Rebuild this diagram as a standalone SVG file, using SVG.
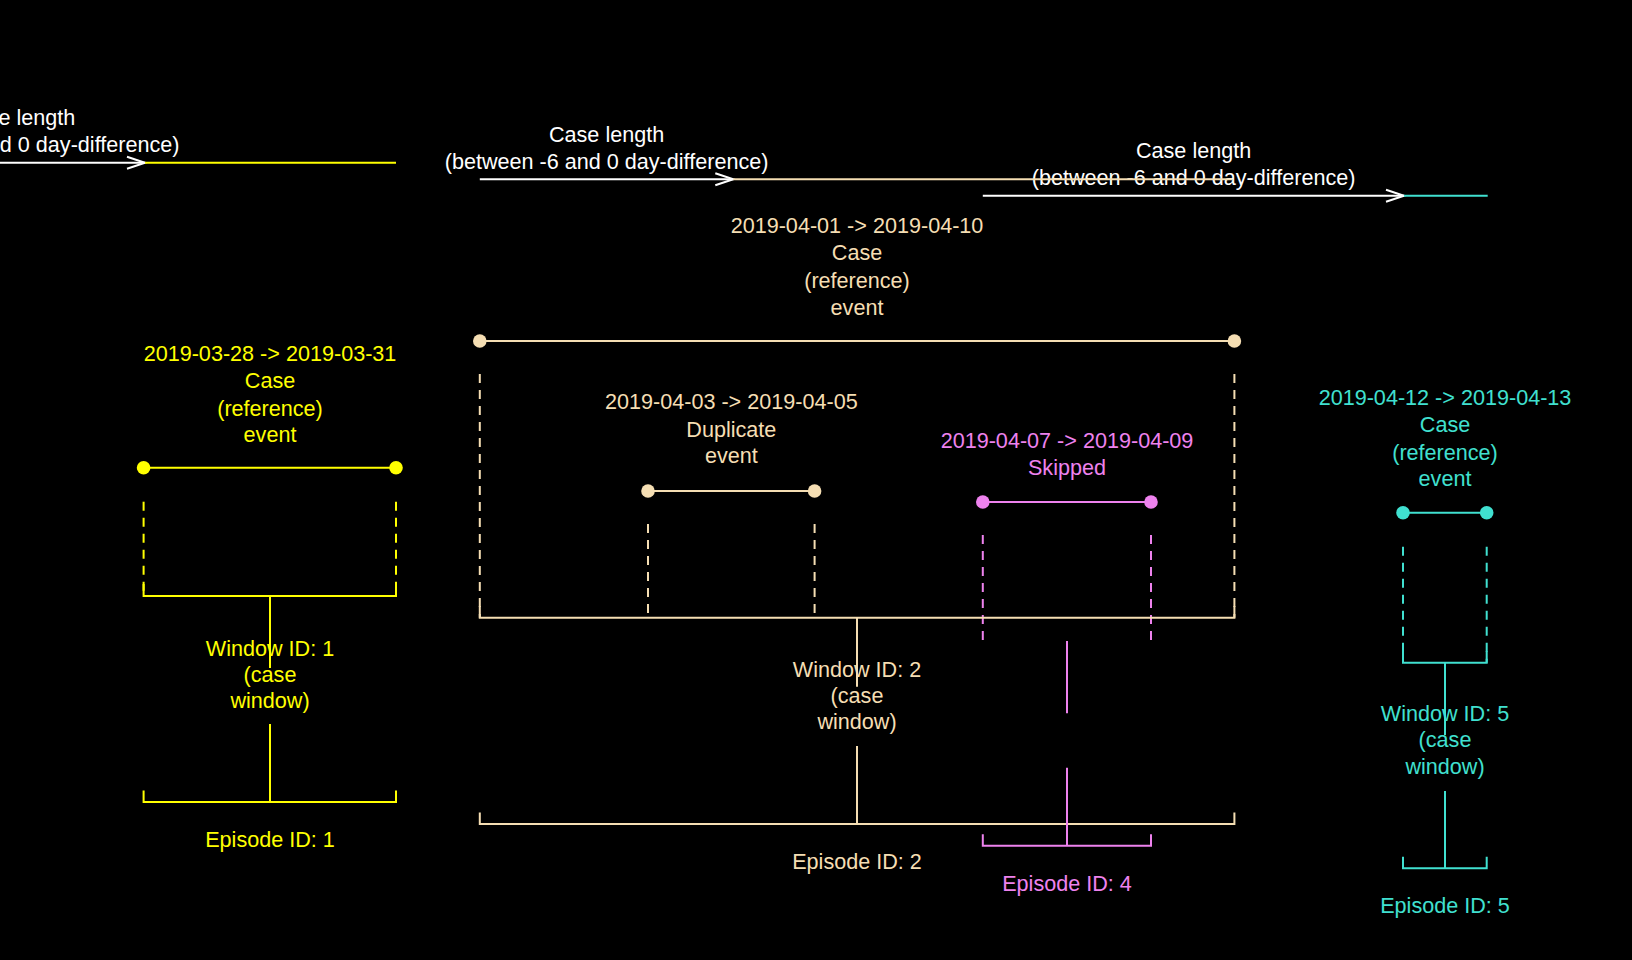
<svg xmlns="http://www.w3.org/2000/svg" width="1632" height="960" viewBox="0 0 1632 960">
<style>
  text { font-family: "Liberation Sans", Arial, sans-serif; font-size: 21.6px; text-anchor: middle; }
  .ln { fill: none; stroke-width: 2; }
  .dash { fill: none; stroke-width: 2; stroke-dasharray: 9 7; }
  .y { stroke: #FFFF00; } .yt { fill: #FFFF00; }
  .w { stroke: #F5DEB3; } .wt { fill: #F5DEB3; }
  .v { stroke: #EE82EE; } .vt { fill: #EE82EE; }
  .c { stroke: #40E0D0; } .ct { fill: #40E0D0; }
  .wh { stroke: #FFFFFF; } .wht { fill: #FFFFFF; }
</style>
<defs>
  <marker id="chev" viewBox="-22 -9 26 18" markerWidth="26" markerHeight="18" refX="0" refY="0" orient="auto" markerUnits="userSpaceOnUse">
    <path d="M-18,-6 L0,0 L-18,6" fill="none" stroke="#FFFFFF" stroke-width="2"/>
  </marker>
</defs>
<rect x="0" y="0" width="1632" height="960" fill="#000000"/>

<!-- arrow labels -->
<g id="case-length-1">
  <text class="wht" x="17.6" y="125">Case length</text>
  <text class="wht" x="17.6" y="152.2">(between -6 and 0 day-difference)</text>
</g>
<g id="case-length-2">
  <text class="wht" x="606.6" y="141.5">Case length</text>
  <text class="wht" x="606.6" y="168.5">(between -6 and 0 day-difference)</text>
</g>
<g id="case-length-3">
  <text class="wht" x="1193.6" y="158">Case length</text>
  <text class="wht" x="1193.6" y="185.2">(between -6 and 0 day-difference)</text>
</g>

<!-- events -->
<g id="event-1">
  <text class="yt" x="270" y="361">2019-03-28 -&gt; 2019-03-31</text>
  <text class="yt" x="270" y="388.3">Case</text>
  <text class="yt" x="270" y="415.6">(reference)</text>
  <text class="yt" x="270" y="442">event</text>
  <line class="ln y" x1="143.6" y1="467.7" x2="396" y2="467.7"/>
  <circle cx="143.6" cy="467.7" r="6.8" class="yt"/>
  <circle cx="396" cy="467.7" r="6.8" class="yt"/>
  <line class="dash y" x1="143.6" y1="501.7" x2="143.6" y2="596"/>
  <line class="dash y" x1="396" y1="501.7" x2="396" y2="596"/>
</g>
<g id="event-2">
  <text class="wt" x="857" y="233">2019-04-01 -&gt; 2019-04-10</text>
  <text class="wt" x="857" y="260.3">Case</text>
  <text class="wt" x="857" y="287.6">(reference)</text>
  <text class="wt" x="857" y="314.5">event</text>
  <line class="ln w" x1="479.8" y1="341" x2="1234.4" y2="341"/>
  <circle cx="479.8" cy="341" r="6.8" class="wt"/>
  <circle cx="1234.4" cy="341" r="6.8" class="wt"/>
  <line class="dash w" x1="479.8" y1="374" x2="479.8" y2="617.7"/>
  <line class="dash w" x1="1234.4" y1="374" x2="1234.4" y2="617.7"/>
</g>
<g id="event-3">
  <text class="wt" x="731.3" y="409.3">2019-04-03 -&gt; 2019-04-05</text>
  <text class="wt" x="731.3" y="436.6">Duplicate</text>
  <text class="wt" x="731.3" y="463.2">event</text>
  <line class="ln w" x1="648" y1="491" x2="814.6" y2="491"/>
  <circle cx="648" cy="491" r="6.8" class="wt"/>
  <circle cx="814.6" cy="491" r="6.8" class="wt"/>
  <line class="dash w" x1="648" y1="524" x2="648" y2="613"/>
  <line class="dash w" x1="814.6" y1="524" x2="814.6" y2="613"/>
</g>
<g id="event-4">
  <text class="vt" x="1067" y="447.6">2019-04-07 -&gt; 2019-04-09</text>
  <text class="vt" x="1067" y="474.9">Skipped</text>
  <line class="ln v" x1="982.8" y1="502" x2="1151" y2="502"/>
  <circle cx="982.8" cy="502" r="6.8" class="vt"/>
  <circle cx="1151" cy="502" r="6.8" class="vt"/>
  <line class="dash v" x1="982.8" y1="535" x2="982.8" y2="641"/>
  <line class="dash v" x1="1151" y1="535" x2="1151" y2="641"/>
</g>
<g id="event-5">
  <text class="ct" x="1445" y="405">2019-04-12 -&gt; 2019-04-13</text>
  <text class="ct" x="1445" y="432.3">Case</text>
  <text class="ct" x="1445" y="459.6">(reference)</text>
  <text class="ct" x="1445" y="485.5">event</text>
  <line class="ln c" x1="1403" y1="512.7" x2="1486.7" y2="512.7"/>
  <circle cx="1403" cy="512.7" r="6.8" class="ct"/>
  <circle cx="1486.7" cy="512.7" r="6.8" class="ct"/>
  <line class="dash c" x1="1403" y1="546.7" x2="1403" y2="662.7"/>
  <line class="dash c" x1="1486.7" y1="546.7" x2="1486.7" y2="662.7"/>
</g>

<!-- windows -->
<g id="window-1">
  <path class="ln y" d="M143.6,584 V596 H396 V584"/>
  <text class="yt" x="270" y="655.6">Window ID: 1</text>
  <text class="yt" x="270" y="681.6">(case</text>
  <text class="yt" x="270" y="708">window)</text>
</g>
<g id="window-2">
  <path class="ln w" d="M479.8,606 V617.7 H1234.4 V606"/>
  <text class="wt" x="857" y="677">Window ID: 2</text>
  <text class="wt" x="857" y="703">(case</text>
  <text class="wt" x="857" y="729">window)</text>
</g>
<g id="window-5">
  <path class="ln c" d="M1403,651 V662.7 H1486.7 V651"/>
  <text class="ct" x="1445" y="721">Window ID: 5</text>
  <text class="ct" x="1445" y="747">(case</text>
  <text class="ct" x="1445" y="773.5">window)</text>
</g>

<!-- episodes -->
<g id="episode-1">
  <path class="ln y" d="M143.6,790.5 V802 H396 V790.5"/>
  <text class="yt" x="270" y="846.6">Episode ID: 1</text>
</g>
<g id="episode-2">
  <path class="ln w" d="M479.8,812.5 V824 H1234.4 V812.5"/>
  <text class="wt" x="857" y="869.3">Episode ID: 2</text>
</g>
<g id="episode-4">
  <path class="ln v" d="M982.8,834.2 V845.7 H1151 V834.2"/>
  <text class="vt" x="1067" y="891.2">Episode ID: 4</text>
</g>
<g id="episode-5">
  <path class="ln c" d="M1403,856.8 V868.3 H1486.7 V856.8"/>
  <text class="ct" x="1445" y="913">Episode ID: 5</text>
</g>

<!-- connectors -->
<g id="connectors">
  <line class="ln wh" x1="-110" y1="162.7" x2="145" y2="162.7" marker-end="url(#chev)"/>
  <line class="ln y" x1="145" y1="162.7" x2="396" y2="162.7"/>
  <line class="ln wh" x1="479.8" y1="179.2" x2="733.3" y2="179.2" marker-end="url(#chev)"/>
  <line class="ln w" x1="733.3" y1="179.2" x2="1232" y2="179.2"/>
  <line class="ln wh" x1="982.8" y1="195.7" x2="1404" y2="195.7" marker-end="url(#chev)"/>
  <line class="ln c" x1="1404" y1="195.7" x2="1487.7" y2="195.7"/>

  <line class="ln y" x1="270" y1="596" x2="270" y2="668"/>
  <line class="ln y" x1="270" y1="724" x2="270" y2="802"/>
  <line class="ln w" x1="857" y1="617.7" x2="857" y2="686.7"/>
  <line class="ln w" x1="857" y1="746" x2="857" y2="824"/>
  <line class="ln v" x1="1067" y1="641" x2="1067" y2="713.3"/>
  <line class="ln v" x1="1067" y1="767.7" x2="1067" y2="845.7"/>
  <line class="ln c" x1="1445" y1="662.7" x2="1445" y2="735"/>
  <line class="ln c" x1="1445" y1="791" x2="1445" y2="868.3"/>
</g>
</svg>
